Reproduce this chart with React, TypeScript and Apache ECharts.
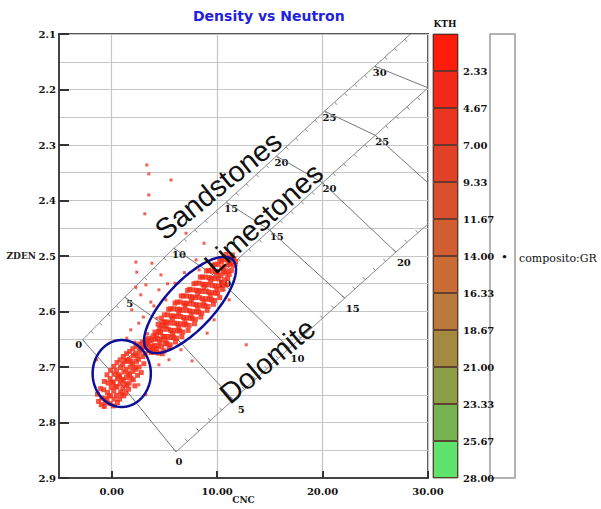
import React, { useEffect, useRef } from 'react';
import * as echarts from 'echarts';

// ---- Lithology (porosity) chart overlay, in (CNC, ZDEN) data units ----
const sandstoneCNC = [-2.76, 1.24, 5.9, 10.86, 15.62, 20.19, 24.95, 29.7];
const sandstoneZDEN = [2.651, 2.574, 2.486, 2.403, 2.32, 2.239, 2.158, 2.077];
const sandstoneLabels = ['0', '5', '10', '15', '20', '25', '30', ''];
const limestoneCNC = [0, 5, 10, 15, 20, 25, 30];
const limestoneZDEN = [2.71, 2.6245, 2.539, 2.4535, 2.368, 2.2825, 2.197];
const limestoneLabels = ['', '', '10', '15', '20', '25', ''];
const dolomiteCNC = [6.1, 11.52, 16.86, 22.1, 26.95, 32.19];
const dolomiteZDEN = [2.853, 2.759, 2.666, 2.576, 2.493, 2.406];
const dolomiteLabels = ['0', '5', '10', '15', '20', ''];

const rockNames = ['Sandstones', 'Limestones', 'Dolomite'];
const rockNameCNC = [10.1, 14.4, 14.76];
const rockNameZDEN = [2.373, 2.432, 2.689];
const rockNameAngle = [39, 42, 40];

// ellipses: centre, end of first semi-axis, end of second semi-axis
const ellipseCenter = [[0.95, 2.7117], [7.43, 2.5883]];
const ellipseAxisA = [[3.71, 2.7117], [11.46, 2.5066]];
const ellipseAxisB = [[0.95, 2.6514], [9.1, 2.6178]];

// ---- log data points [CNC, ZDEN] ----
const denseCloud = [
  [-1.35, 2.749], [-1.25, 2.762],
  [-1.05, 2.739], [-0.95, 2.756], [-1.0, 2.768],
  [-0.7, 2.726], [-0.75, 2.741], [-0.65, 2.757], [-0.7, 2.771], [-0.6, 2.764],
  [-0.45, 2.714], [-0.35, 2.729], [-0.4, 2.746], [-0.45, 2.76], [-0.25, 2.752],
  [-0.1, 2.706], [-0.15, 2.721], [-0.05, 2.737], [-0.1, 2.752], [-0.15, 2.766], [0.05, 2.728],
  [0.2, 2.699], [0.25, 2.713], [0.15, 2.727], [0.2, 2.743], [0.25, 2.758], [0.15, 2.77], [0.35, 2.735],
  [0.5, 2.692], [0.45, 2.707], [0.55, 2.721], [0.5, 2.736], [0.45, 2.751], [0.55, 2.764], [0.65, 2.714],
  [0.8, 2.687], [0.85, 2.701], [0.75, 2.716], [0.8, 2.73], [0.85, 2.745], [0.75, 2.758], [0.95, 2.722], [0.95, 2.75],
  [1.1, 2.681], [1.05, 2.695], [1.15, 2.709], [1.1, 2.724], [1.05, 2.739], [1.15, 2.752], [1.25, 2.688], [1.25, 2.731],
  [1.4, 2.676], [1.45, 2.69], [1.35, 2.704], [1.4, 2.719], [1.45, 2.733], [1.35, 2.747], [1.55, 2.711], [1.6, 2.74],
  [1.7, 2.672], [1.65, 2.686], [1.75, 2.7], [1.7, 2.714], [1.65, 2.729], [1.85, 2.69], [1.85, 2.72],
  [2.0, 2.667], [2.05, 2.68], [1.95, 2.694], [2.0, 2.708], [2.05, 2.723], [2.15, 2.7], [2.2, 2.734],
  [2.3, 2.663], [2.25, 2.676], [2.35, 2.69], [2.3, 2.704], [2.45, 2.715], [2.45, 2.68],
  [2.6, 2.659], [2.65, 2.672], [2.55, 2.686], [2.6, 2.7], [2.75, 2.666], [2.8, 2.71],
  [2.9, 2.655], [2.85, 2.668], [2.95, 2.681], [3.05, 2.664], [3.05, 2.694],
  [3.2, 2.651], [3.25, 2.663], [3.15, 2.676], [3.35, 2.657],
  [3.5, 2.648], [3.45, 2.659], [3.55, 2.671], [3.65, 2.653], [3.65, 2.665],
  [3.8, 2.651], [3.85, 2.663], [3.75, 2.674], [3.95, 2.644], [3.95, 2.668],
  [4.1, 2.637], [4.15, 2.65], [4.05, 2.661], [4.1, 2.673], [4.25, 2.643], [4.25, 2.667],
  [4.4, 2.623], [4.45, 2.636], [4.35, 2.649], [4.4, 2.662], [4.45, 2.675], [4.55, 2.63], [4.55, 2.656],
  [4.7, 2.612], [4.75, 2.625], [4.65, 2.638], [4.7, 2.651], [4.75, 2.664], [4.85, 2.619], [4.85, 2.645], [4.8, 2.676],
  [5.0, 2.606], [5.05, 2.619], [4.95, 2.632], [5.0, 2.645], [5.05, 2.658], [4.95, 2.671], [5.15, 2.626], [5.15, 2.652],
  [5.3, 2.606], [5.25, 2.619], [5.35, 2.632], [5.3, 2.645], [5.25, 2.658], [5.4, 2.596], [5.45, 2.665],
  [5.6, 2.595], [5.65, 2.608], [5.55, 2.621], [5.6, 2.634], [5.65, 2.647], [5.55, 2.66], [5.75, 2.614], [5.75, 2.64],
  [5.9, 2.595], [5.85, 2.608], [5.95, 2.621], [5.9, 2.634], [5.85, 2.647], [6.0, 2.585], [6.05, 2.655],
  [6.2, 2.583], [6.25, 2.596], [6.15, 2.609], [6.2, 2.622], [6.25, 2.635], [6.15, 2.648], [6.35, 2.603], [6.35, 2.629],
  [6.5, 2.583], [6.45, 2.596], [6.55, 2.609], [6.5, 2.622], [6.45, 2.635], [6.6, 2.572], [6.65, 2.645],
  [6.8, 2.572], [6.85, 2.585], [6.75, 2.598], [6.8, 2.611], [6.85, 2.624], [6.75, 2.637], [6.95, 2.59], [6.95, 2.617],
  [7.1, 2.572], [7.05, 2.585], [7.15, 2.598], [7.1, 2.611], [7.05, 2.624], [7.2, 2.562], [7.25, 2.634],
  [7.4, 2.56], [7.45, 2.573], [7.35, 2.586], [7.4, 2.599], [7.45, 2.612], [7.35, 2.625], [7.55, 2.58], [7.55, 2.606],
  [7.7, 2.561], [7.65, 2.574], [7.75, 2.587], [7.7, 2.6], [7.65, 2.613], [7.8, 2.55], [7.85, 2.622],
  [8.0, 2.549], [8.05, 2.562], [7.95, 2.575], [8.0, 2.588], [8.05, 2.601], [7.95, 2.614], [8.15, 2.568], [8.15, 2.594],
  [8.3, 2.549], [8.25, 2.562], [8.35, 2.575], [8.3, 2.588], [8.25, 2.601], [8.4, 2.538], [8.45, 2.61],
  [8.6, 2.538], [8.65, 2.551], [8.55, 2.564], [8.6, 2.577], [8.65, 2.59], [8.55, 2.603], [8.75, 2.557], [8.75, 2.583],
  [8.9, 2.538], [8.85, 2.551], [8.95, 2.564], [8.9, 2.577], [8.85, 2.59], [9.0, 2.527], [9.05, 2.598],
  [9.2, 2.526], [9.25, 2.539], [9.15, 2.552], [9.2, 2.565], [9.25, 2.578], [9.15, 2.591], [9.35, 2.545], [9.35, 2.571],
  [9.5, 2.527], [9.45, 2.54], [9.55, 2.553], [9.5, 2.566], [9.45, 2.579], [9.6, 2.517], [9.65, 2.587],
  [9.8, 2.515], [9.85, 2.528], [9.75, 2.541], [9.8, 2.554], [9.85, 2.567], [9.75, 2.58], [9.95, 2.534], [9.95, 2.56],
  [10.1, 2.515], [10.05, 2.528], [10.15, 2.541], [10.1, 2.554], [10.05, 2.567], [10.25, 2.506], [10.25, 2.575],
  [10.4, 2.51], [10.45, 2.522], [10.35, 2.535], [10.4, 2.548], [10.45, 2.56], [10.55, 2.527], [10.55, 2.553],
  [10.7, 2.507], [10.65, 2.519], [10.75, 2.531], [10.7, 2.543], [10.85, 2.497], [10.85, 2.552],
  [11.0, 2.504], [11.05, 2.516], [10.95, 2.528], [11.0, 2.54], [11.15, 2.511], [11.15, 2.533],
  [11.3, 2.503], [11.25, 2.514], [11.35, 2.526], [11.45, 2.498],
  [11.6, 2.505], [11.55, 2.517], [11.75, 2.51],
];
const scatteredPoints = [
  [3.33, 2.336], [3.52, 2.352], [3.52, 2.39], [3.14, 2.424], [5.62, 2.363],
  [2.29, 2.511], [2.38, 2.529], [3.81, 2.513], [4.67, 2.534], [3.24, 2.552],
  [2.29, 2.556], [2.76, 2.57], [3.71, 2.583], [1.9, 2.597],
  [7.05, 2.459], [8.76, 2.477], [8.0, 2.507], [8.29, 2.525],
  [2.57, 2.621], [1.81, 2.633], [12.76, 2.66], [7.62, 2.689], [9.05, 2.639], [11.81, 2.516],
  [4.48, 2.561], [5.14, 2.579], [1.43, 2.648], [4.29, 2.612], [6.0, 2.549], [3.81, 2.651],
  [6.57, 2.669], [5.43, 2.687], [4.48, 2.696], [3.24, 2.75], [2.57, 2.732], [-0.76, 2.772],
  [-1.43, 2.687], [5.9, 2.642], [11.14, 2.579], [10.67, 2.561], [9.71, 2.615],
  [3.0, 2.61], [4.0, 2.59], [3.4, 2.64], [2.2, 2.655], [6.9, 2.53], [5.3, 2.55],
];

// ---- KTH colour scale ----
const kthLabels = ['2.33', '4.67', '7.00', '9.33', '11.67', '14.00', '16.33', '18.67', '21.00', '23.33', '25.67', '28.00'];
const kthColors = ['#ff1c0a', '#f22818', '#e93420', '#e14227', '#d9502d', '#d15e31', '#c96c35', '#b97a3c', '#a48a40', '#8c9e46', '#76b452', '#5ee46c'];
const kthSegment = [1, 1, 1, 1, 1, 1, 1, 1, 1, 1, 1, 1];

const numFont = '"DejaVu Serif", serif';
const lineGray = '#8a8a8a';

const lithoCNC = [sandstoneCNC, limestoneCNC, dolomiteCNC];
const lithoZDEN = [sandstoneZDEN, limestoneZDEN, dolomiteZDEN];
const lithoLabels = [sandstoneLabels, limestoneLabels, dolomiteLabels];

function textEl(text: string, x: number, y: number, font: string, rotation = 0, fill = '#111') {
  return {
    type: 'text', x, y, rotation,
    style: { text, font, fill, align: 'center', verticalAlign: 'middle', textAlign: 'center', textVerticalAlign: 'middle' },
  };
}

function renderLitho(params: any, api: any) {
  const k = params.dataIndex;
  const cs = lithoCNC[k], zs = lithoZDEN[k], labels = lithoLabels[k];
  const pts = cs.map((c, i) => api.coord([c, zs[i]]));
  const children: any[] = [
    { type: 'polyline', shape: { points: pts }, style: { stroke: lineGray, lineWidth: 1, fill: 'none' } },
  ];
  const side = k === 2 ? -1 : 1;
  for (let i = 0; i < pts.length - 1; i++) {
    const [x0, y0] = pts[i];
    const [x1, y1] = pts[i + 1];
    const len = Math.hypot(x1 - x0, y1 - y0);
    const nx = (-(y1 - y0) / len) * side;
    const ny = ((x1 - x0) / len) * side;
    for (let j = 0; j < 5; j++) {
      const t = j / 5;
      const x = x0 + (x1 - x0) * t;
      const y = y0 + (y1 - y0) * t;
      children.push({ type: 'line', shape: { x1: x, y1: y, x2: x + nx * 3.5, y2: y + ny * 3.5 }, style: { stroke: lineGray, lineWidth: 1 } });
    }
  }
  pts.forEach((p: number[], i: number) => {
    if (!labels[i]) return;
    let dx = k === 0 ? 5 : k === 1 ? 7 : 8;
    let dy = k === 0 ? 6 : k === 1 ? 6 : 10;
    if (i === 0 && k === 0) { dx = -4; dy = 5; }
    if (i === 0 && k === 2) { dx = 3; dy = 10; }
    children.push(textEl(labels[i], p[0] + dx, p[1] + dy, 'bold 10px ' + numFont));
  });
  return { type: 'group', children };
}

function renderIso(params: any, api: any) {
  const i = params.dataIndex;
  const pts: number[][] = [];
  for (let k = 0; k < 3; k++) {
    if (i < lithoCNC[k].length) pts.push(api.coord([lithoCNC[k][i], lithoZDEN[k][i]]));
  }
  if (pts.length < 2) return null;
  return { type: 'polyline', shape: { points: pts }, style: { stroke: '#777', lineWidth: 1, fill: 'none' } };
}

function renderEllipse(params: any, api: any) {
  const i = params.dataIndex;
  const c = api.coord(ellipseCenter[i]);
  const a = api.coord(ellipseAxisA[i]);
  const b = api.coord(ellipseAxisB[i]);
  const pts: number[][] = [];
  for (let s = 0; s < 90; s++) {
    const t = (s / 90) * Math.PI * 2;
    pts.push([
      c[0] + (a[0] - c[0]) * Math.cos(t) + (b[0] - c[0]) * Math.sin(t),
      c[1] + (a[1] - c[1]) * Math.cos(t) + (b[1] - c[1]) * Math.sin(t),
    ]);
  }
  return { type: 'polygon', shape: { points: pts }, style: { fill: 'none', stroke: '#0d0f99', lineWidth: 2.5 } };
}

function renderRockName(params: any, api: any) {
  const i = params.dataIndex;
  const p = api.coord([rockNameCNC[i], rockNameZDEN[i]]);
  return textEl(rockNames[i], p[0], p[1], '29px "Liberation Sans", Arial, sans-serif', (rockNameAngle[i] * Math.PI) / 180, '#111');
}

const gridLine = { color: '#c6c6c6', width: 1.2 };
const axisLabelStyle = { color: '#111', fontWeight: 'bold' as const, fontSize: 10, fontFamily: numFont };

function buildOption(): any {
  const kthSeries = kthSegment.map((v, i) => ({
    type: 'bar', name: 'KTH ' + kthLabels[i], stack: 'kth', xAxisIndex: 1, yAxisIndex: 1,
    data: [v], barWidth: '100%', silent: true,
    itemStyle: { color: kthColors[i], borderColor: 'rgba(60,20,10,0.75)', borderWidth: 1 },
  }));
  return {
    animation: false,
    backgroundColor: '#fff',
    title: {
      text: 'Density vs Neutron', left: 193, top: 9, padding: 0,
      textStyle: { color: '#2222dd', fontSize: 14, fontWeight: 'bold', fontFamily: '"DejaVu Sans", sans-serif' },
    },
    grid: [
      { left: 59, top: 34, width: 369, height: 444, outerBoundsMode: 'none', containLabel: false, show: true, borderColor: '#555', borderWidth: 2, backgroundColor: 'transparent' },
      { left: 433, top: 34, width: 25, height: 444, outerBoundsMode: 'none', containLabel: false, show: true, borderColor: '#777', borderWidth: 1, backgroundColor: 'transparent' },
    ],
    xAxis: [
      {
        type: 'value', gridIndex: 0, min: -5, max: 30, interval: 5,
        name: 'CNC', nameLocation: 'middle', nameGap: 17, nameMoveOverlap: false,
        nameTextStyle: { color: '#222', fontSize: 9, fontWeight: 'bold', fontFamily: numFont },
        axisLine: { show: true, onZero: false, lineStyle: { color: '#444', width: 2 } },
        axisTick: { show: true, inside: true, length: 7, customValues: [0, 10, 20, 30], lineStyle: { color: '#333', width: 2 } },
        axisLabel: {
          ...axisLabelStyle, margin: 8, customValues: [0, 10, 20, 30],
          formatter: (v: number) => (Math.abs(v % 10) < 1e-9 ? v.toFixed(2) : ''),
        },
        splitLine: { show: true, lineStyle: gridLine },
      },
      { type: 'category', gridIndex: 1, data: ['KTH'], show: false },
    ],
    yAxis: [
      {
        type: 'value', gridIndex: 0, inverse: true, min: 2.1, max: 2.9, interval: 0.1,
        name: 'ZDEN', nameLocation: 'middle', nameGap: 23, nameRotate: 0, nameMoveOverlap: false,
        nameTextStyle: { color: '#222', fontSize: 9, fontWeight: 'bold', fontFamily: numFont },
        axisLine: { show: true, onZero: false, lineStyle: { color: '#444', width: 2 } },
        axisTick: { show: true, inside: true, length: 10, lineStyle: { color: '#333', width: 2 } },
        axisLabel: { ...axisLabelStyle, margin: 3, formatter: (v: number) => v.toFixed(1) },
        splitLine: { show: true, lineStyle: gridLine },
        minorTick: { show: false, splitNumber: 2 },
        minorSplitLine: { show: true, lineStyle: gridLine },
      },
      {
        type: 'value', gridIndex: 1, inverse: true, min: 0, max: 12, interval: 1, position: 'right',
        axisLine: { show: false }, axisTick: { show: false }, splitLine: { show: false },
        axisLabel: {
          ...axisLabelStyle, margin: 5,
          formatter: (v: number) => {
            const n = Math.round(v);
            if (n === 0) return '';
            return kthLabels[n - 1] + (n === 6 ? '  •' : '');
          },
        },
      },
    ],
    graphic: [
      { type: 'text', x: 445, y: 24, style: { text: 'KTH', font: 'bold 9px ' + numFont, fill: '#111', align: 'center', verticalAlign: 'middle', textAlign: 'center', textVerticalAlign: 'middle' } },
      { type: 'rect', shape: { x: 490, y: 34, width: 25, height: 444 }, style: { fill: 'none', stroke: '#9a9a9a', lineWidth: 1.5 } },
      { type: 'text', x: 519, y: 258, style: { text: 'composito:GR', font: '11px ' + numFont, fill: '#111', align: 'left', verticalAlign: 'middle', textAlign: 'left', textVerticalAlign: 'middle' } },
    ],
    series: [
      { type: 'custom', name: 'lithology lines', clip: true, z: 2, silent: true, data: lithoCNC.map((_, i) => [i, 0]), renderItem: renderLitho },
      { type: 'custom', name: 'iso-porosity', clip: true, z: 2, silent: true, data: sandstoneLabels.slice(0, 7).map((_, i) => [i, 0]), renderItem: renderIso },
      { type: 'scatter', name: 'log points', z: 3, data: denseCloud, symbol: 'rect', symbolSize: 5, itemStyle: { color: '#f52a15' } },
      { type: 'scatter', name: 'scattered points', z: 3, data: scatteredPoints, symbol: 'rect', symbolSize: 3, itemStyle: { color: '#f03a25' } },
      { type: 'custom', name: 'ellipses', clip: true, z: 4, silent: true, data: ellipseCenter.map((_, i) => [i, 0]), renderItem: renderEllipse },
      { type: 'custom', name: 'rock names', clip: false, z: 5, silent: true, data: rockNames.map((_, i) => [i, 0]), renderItem: renderRockName },
      ...kthSeries,
    ],
  };
}

export default function App() {
  const ref = useRef<HTMLDivElement>(null);
  useEffect(() => {
    if (!ref.current) return;
    const chart = echarts.init(ref.current, null, { renderer: 'svg' });
    chart.setOption(buildOption());
    return () => chart.dispose();
  }, []);
  return (
    <div
      ref={ref}
      style={{ position: 'fixed', left: 0, top: 0, width: 601, height: 509, background: '#fff' }}
    />
  );
}
